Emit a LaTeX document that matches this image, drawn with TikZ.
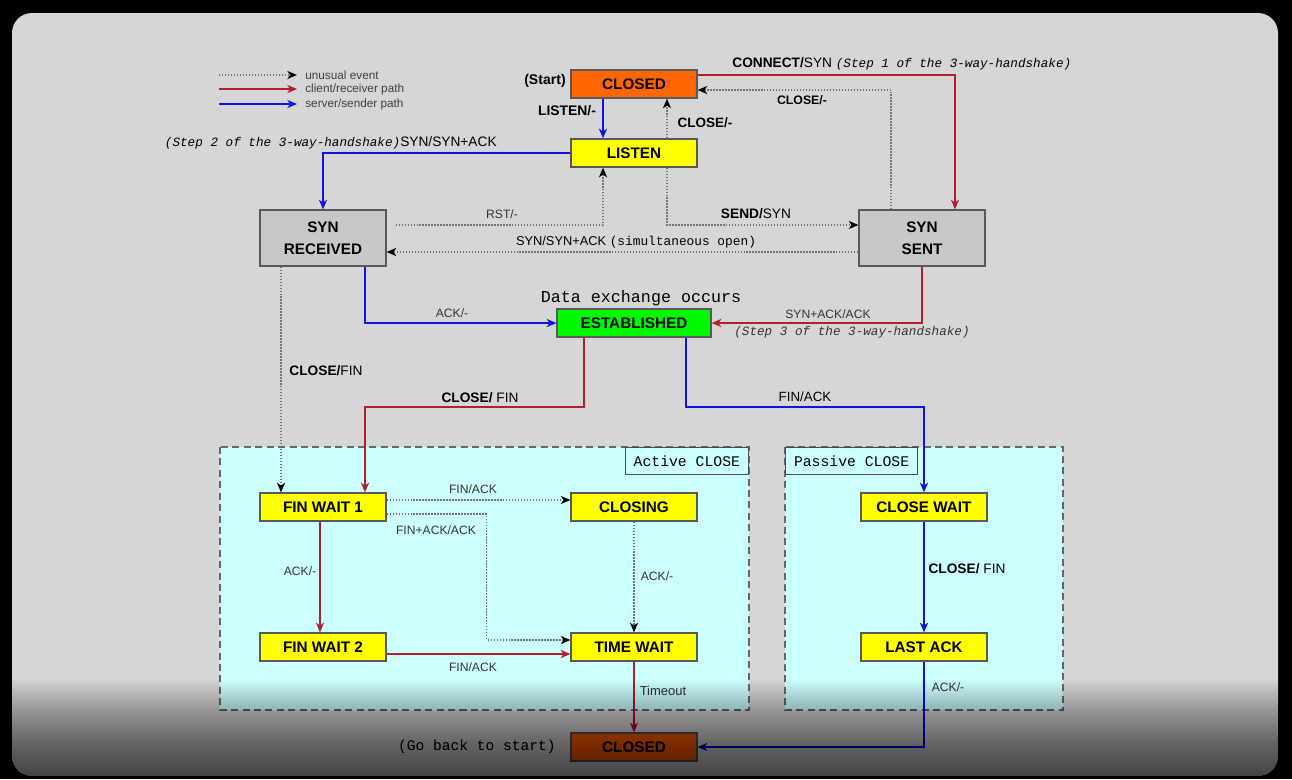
\documentclass[tikz,border=0pt]{standalone}
\usepackage{fontspec}
\setmainfont{Liberation Sans}
\setmonofont{Liberation Mono}
\usetikzlibrary{arrows.meta,positioning}
\definecolor{bggray}{RGB}{214,214,214}
\definecolor{zonecyan}{RGB}{204,255,255}
\definecolor{pathred}{RGB}{178,32,48}
\definecolor{pathblue}{RGB}{18,18,232}
\definecolor{stateorange}{RGB}{255,102,0}
\definecolor{stategreen}{RGB}{0,250,0}
\definecolor{stategray}{RGB}{200,200,200}
\definecolor{stateyellow}{RGB}{255,255,0}
\tikzset{
    state/.style={
        draw=black!65,
        line width=0.7pt,
        minimum width=2.52cm,
        minimum height=0.56cm,
        inner sep=0pt,
        align=center,
        font=\fontsize{8.7}{12.5}\selectfont\bfseries
    },
    % connector looks
    redpath/.style={
        line width=1.1pt,
        pathred,
        -{Stealth[length=5.5pt, width=4.6pt, inset=1.6pt]}
    },
    bluepath/.style={
        line width=1.1pt,
        pathblue,
        -{Stealth[length=5.5pt, width=4.6pt, inset=1.6pt]}
    },
    oddpath/.style={
        line width=0.7pt,
        black!55,
        dash pattern=on 0.8pt off 0.9pt,
        -{Stealth[length=5.5pt, width=4.6pt, inset=1.6pt, black]}
    },
    zone/.style={fill=zonecyan, draw=black!60, line width=0.8pt, dash pattern=on 4pt off 2.5pt},
    zonetag/.style={fill=zonecyan, draw=black!70, line width=0.6pt, inner xsep=0.17cm,
        minimum height=0.54cm, font=\ttfamily\fontsize{8.4}{10}\selectfont},
    evlabel/.style={font=\fontsize{7.8}{9}\selectfont, inner sep=0pt},
    smalllabel/.style={font=\fontsize{6.9}{8}\selectfont, text=black!80, inner sep=0pt},
    steplabel/.style={font=\ttfamily\itshape\fontsize{7.2}{9}\selectfont, text=black!80},
    legtext/.style={font=\fontsize{6.7}{8}\selectfont, text=black!75, anchor=west, inner sep=0pt}
}

\begin{document}
\begin{tikzpicture}[x=0.02cm, y=-0.02cm]
    % screen frame
    \fill[black] (0,0) rectangle (1292,779);
    \useasboundingbox (0,0) rectangle (1292,779);
    \fill[bggray, rounded corners=0.4cm] (12,13) rectangle (1278,776);

    % close zones
    \draw[zone] (220,447) rectangle (749,710);
    \draw[zone] (785,447) rectangle (1063,710);
    \node[zonetag, anchor=north east] (activetag) at (749,447) {Active CLOSE};
    \node[zonetag, anchor=north west] (passivetag) at (785,447) {Passive CLOSE};

    % legend
    \node[legtext] (lgodd) at (305,75) {unusual event};
    \node[legtext] (lgred) at (305,89) {client/receiver path};
    \node[legtext] (lgblue) at (305,104) {server/sender path};
    \draw[oddpath] ([xshift=-1.72cm]lgodd.west) -- ([xshift=-0.16cm]lgodd.west);
    \draw[redpath] ([xshift=-1.72cm]lgred.west) -- ([xshift=-0.16cm]lgred.west);
    \draw[bluepath] ([xshift=-1.72cm]lgblue.west) -- ([xshift=-0.16cm]lgblue.west);

    % states
    \node[state, fill=stateorange] (closedT) at (634,84) {CLOSED};
    \node[state, fill=stateyellow] (listen) at (634,153) {LISTEN};
    \node[state, fill=stategray, minimum height=1.12cm] (synrcvd) at (323,238) {SYN\\RECEIVED};
    \node[state, fill=stategray, minimum height=1.12cm] (synsent) at (922,238) {SYN\\SENT};
    \node[state, fill=stategreen, minimum width=3.08cm] (estab) at (634,323) {ESTABLISHED};
    \node[state, fill=stateyellow] (finw1) at (323,507) {FIN WAIT 1};
    \node[state, fill=stateyellow] (closing) at (634,507) {CLOSING};
    \node[state, fill=stateyellow] (finw2) at (323,647) {FIN WAIT 2};
    \node[state, fill=stateyellow] (timewait) at (634,647) {TIME WAIT};
    \node[state, fill=stateyellow] (closewait) at (924,507) {CLOSE WAIT};
    \node[state, fill=stateyellow] (lastack) at (924,647) {LAST ACK};
    \node[state, fill=stateorange] (closedB) at (634,747) {CLOSED};

    % opening
    \draw[redpath] ([yshift=-0.12cm]closedT.north east) -| ([xshift=0.66cm]synsent.north);
    \draw[bluepath] ([xshift=-0.62cm]closedT.south) -- ([xshift=-0.62cm]listen.north);
    \draw[oddpath] ([xshift=0.66cm]listen.north) -- ([xshift=0.66cm]closedT.south);
    \draw[oddpath] ([xshift=0.66cm]listen.south) |- ([yshift=0.26cm]synsent.west);
    \draw[oddpath] ([xshift=-0.62cm]synsent.north) |- ([yshift=-0.12cm]closedT.east);
    \draw[bluepath] (listen.west) -| (synrcvd.north);
    \draw[oddpath] ([xshift=0.18cm, yshift=0.26cm]synrcvd.east) -| ([xshift=-0.62cm]listen.south);
    \draw[oddpath] ([yshift=-0.28cm]synsent.west) -- ([yshift=-0.28cm]synrcvd.east);
    \draw[bluepath] ([xshift=0.84cm]synrcvd.south) |- (estab.west);
    \draw[redpath] (synsent.south) |- (estab.east);

    % closing
    \draw[redpath] ([xshift=-1cm]estab.south) -- ++(0,69) -| ([xshift=0.84cm]finw1.north);
    \draw[bluepath] ([xshift=1.04cm]estab.south) -- ++(0,69) -| (closewait.north);
    \draw[oddpath] ([xshift=-0.84cm]synrcvd.south) -- ([xshift=-0.84cm]finw1.north);
    \draw[oddpath] ([yshift=0.14cm]finw1.east) -- ([yshift=0.14cm]closing.west);
    \draw[oddpath] ([yshift=-0.14cm]finw1.east) -- ++(100,0) |- ([yshift=0.14cm]timewait.west);
    \draw[redpath] ([xshift=-0.06cm]finw1.south) -- ([xshift=-0.06cm]finw2.north);
    \draw[oddpath] (closing.south) -- (timewait.north);
    \draw[redpath] ([yshift=-0.14cm]finw2.east) -- ([yshift=-0.14cm]timewait.west);
    \draw[redpath] (timewait.south) -- (closedB.north);
    \draw[bluepath] (closewait.south) -- (lastack.north);
    \draw[bluepath] (lastack.south) |- (closedB.east);

    % labels
    \node[evlabel, font=\fontsize{8}{9}\selectfont\bfseries] (startlbl) at (545,81) {(Start)};
    \node[evlabel, anchor=west] (connlbl) at (732,64)
        {\textbf{CONNECT/}SYN \texttt{\itshape\fontsize{7.2}{9}\selectfont(Step 1 of the 3-way-handshake)}};
    \node[evlabel, font=\fontsize{7.9}{9}\selectfont\bfseries] (listenlbl) at (567,111) {LISTEN/-};
    \node[evlabel, font=\fontsize{7.7}{9}\selectfont\bfseries] (closeAlbl) at (705,123) {CLOSE/-};
    \node[evlabel, font=\fontsize{7}{9}\selectfont\bfseries] (closeBlbl) at (802,100) {CLOSE/-};
    \node[evlabel, anchor=east] (synAlbl) at (497,143)
        {\texttt{\itshape\fontsize{7.2}{9}\selectfont(Step 2 of the 3-way-handshake)}SYN/SYN+ACK};
    \node[smalllabel] (rstlbl) at (502,214) {RST/-};
    \node[evlabel] (sendlbl) at (756,214) {\textbf{SEND/}SYN};
    \node[evlabel, font=\fontsize{7.3}{9}\selectfont] (simlbl) at (636,242)
        {SYN/SYN+ACK \texttt{\fontsize{7.3}{9}\selectfont(simultaneous open)}};
    \node[font=\ttfamily\fontsize{9.5}{11}\selectfont, inner sep=0pt] (datalbl) at (641,298) {Data exchange occurs};
    \node[smalllabel] (ackAlbl) at (452,313) {ACK/-};
    \node[smalllabel] (synacklbl) at (828,314) {SYN+ACK/ACK};
    \node[steplabel, inner sep=0pt] (step3lbl) at (852,332) {(Step 3 of the 3-way-handshake)};
    \node[evlabel] (closeFlbl) at (326,371) {\textbf{CLOSE/}FIN};
    \node[evlabel] (closeGlbl) at (480,398) {\textbf{CLOSE/} FIN};
    \node[evlabel, font=\fontsize{7.6}{9}\selectfont] (finAlbl) at (805,397) {FIN/ACK};
    \node[smalllabel] (finBlbl) at (473,489) {FIN/ACK};
    \node[smalllabel] (finacklbl) at (436,530) {FIN+ACK/ACK};
    \node[smalllabel] (ackBlbl) at (300,571) {ACK/-};
    \node[smalllabel] (ackClbl) at (657,576) {ACK/-};
    \node[smalllabel] (finClbl) at (473,667) {FIN/ACK};
    \node[smalllabel, font=\fontsize{7.4}{9}\selectfont] (timeoutlbl) at (663,691) {Timeout};
    \node[evlabel] (closeHlbl) at (967,569) {\textbf{CLOSE/} FIN};
    \node[smalllabel] (ackDlbl) at (948,687) {ACK/-};
    \node[font=\ttfamily\fontsize{8.3}{10}\selectfont, inner sep=0pt] (backlbl) at (477,747) {(Go back to start)};

    % bottom shade of the screen
    \begin{scope}
        \clip[rounded corners=0.4cm] (12,13) rectangle (1278,776);
        \foreach \k in {0,...,47}
            \fill[black, opacity=0.021] (0,{680+2*\k}) rectangle (1292,779);
    \end{scope}
\end{tikzpicture}
\end{document}
